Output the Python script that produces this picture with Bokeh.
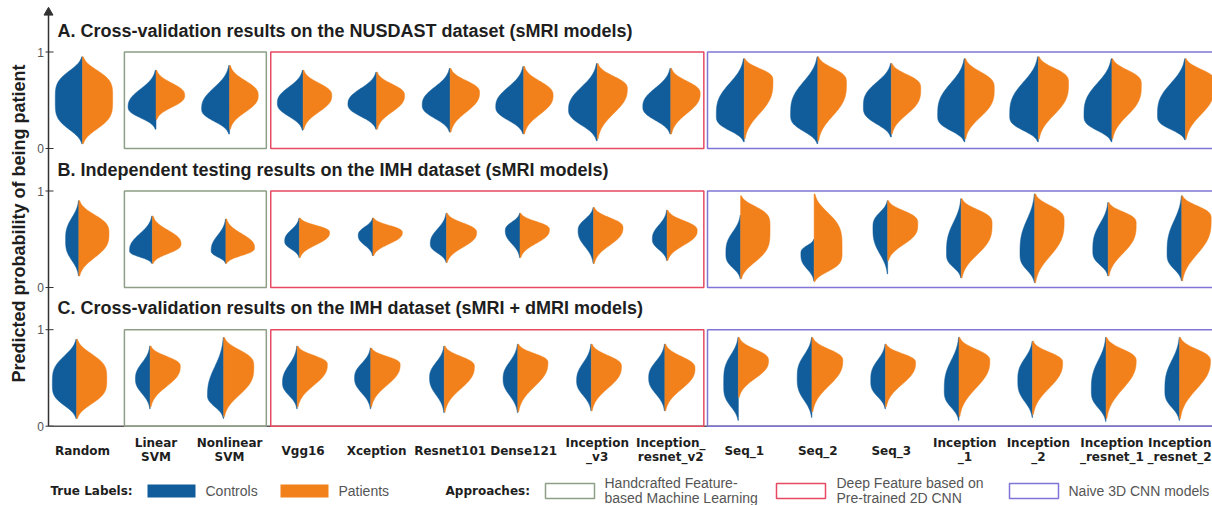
import numpy as np
from bokeh.plotting import figure
from bokeh.models import Range1d
from bokeh.core.properties import value
from bokeh.embed import file_html
from bokeh.resources import INLINE

# ---------------- data ----------------
model_labels = ["Random", "Linear\nSVM", "Nonlinear\nSVM", "Vgg16", "Xception",
                "Resnet101", "Dense121", "Inception\n_v3", "Inception_\nresnet_v2",
                "Seq_1", "Seq_2", "Seq_3", "Inception\n_1", "Inception\n_2",
                "Inception\n_resnet_1", "Inception\n_resnet_2"]

panel_titles = ["A. Cross-validation results on the NUSDAST dataset (sMRI models)",
                "B. Independent testing results on the IMH dataset (sMRI models)",
                "C. Cross-validation results on the IMH dataset (sMRI + dMRI models)"]

y_title = "Predicted probability of being patient"
y_tick_labels = ["0", "1"]
true_labels = ["Controls", "Patients"]
approach_labels = ["Handcrafted Feature-\nbased Machine Learning",
                   "Deep Feature based on\nPre-trained 2D CNN",
                   "Naive 3D CNN models"]
approach_first = [2, 4, 10]   # first model (1-based) of each approach
approach_last = [3, 9, 16]    # last model of each approach

# each half violin: (low tail, mode, high tail, half-width at mode, fullness)
A_controls = [(0.05, 0.50, 0.95, 0.37, 4.0), (0.20, 0.43, 0.81, 0.38, 2.5), (0.15, 0.41, 0.86, 0.38, 2.5),
              (0.19, 0.47, 0.81, 0.35, 2.5), (0.20, 0.46, 0.79, 0.39, 2.5), (0.17, 0.45, 0.83, 0.38, 2.5),
              (0.15, 0.43, 0.85, 0.38, 2.5), (0.08, 0.40, 0.88, 0.39, 2.5), (0.15, 0.43, 0.83, 0.38, 2.5),
              (0.07, 0.34, 0.93, 0.38, 3.0), (0.05, 0.35, 0.95, 0.37, 3.0), (0.12, 0.43, 0.88, 0.38, 3.0),
              (0.07, 0.34, 0.93, 0.37, 3.0), (0.07, 0.34, 0.95, 0.39, 3.0), (0.07, 0.34, 0.93, 0.38, 3.0),
              (0.09, 0.34, 0.93, 0.38, 3.0)]
A_patients = [(0.05, 0.52, 0.95, 0.41, 4.0), (0.30, 0.55, 0.81, 0.39, 2.5), (0.20, 0.55, 0.86, 0.39, 2.5),
              (0.20, 0.55, 0.81, 0.39, 2.5), (0.20, 0.55, 0.79, 0.38, 2.5), (0.17, 0.58, 0.83, 0.40, 2.5),
              (0.15, 0.55, 0.85, 0.40, 2.5), (0.10, 0.62, 0.88, 0.41, 2.5), (0.15, 0.57, 0.83, 0.40, 2.5),
              (0.10, 0.70, 0.93, 0.39, 3.0), (0.08, 0.68, 0.95, 0.39, 3.0), (0.15, 0.62, 0.88, 0.40, 3.0),
              (0.10, 0.62, 0.93, 0.40, 3.0), (0.10, 0.68, 0.95, 0.41, 3.0), (0.10, 0.66, 0.93, 0.40, 3.0),
              (0.10, 0.68, 0.93, 0.40, 3.0)]
B_controls = [(0.12, 0.49, 0.90, 0.18, 3.0), (0.25, 0.38, 0.74, 0.31, 2.5), (0.25, 0.38, 0.71, 0.20, 2.5),
              (0.31, 0.48, 0.72, 0.20, 2.5), (0.33, 0.54, 0.72, 0.20, 2.5), (0.26, 0.45, 0.77, 0.22, 2.5),
              (0.31, 0.59, 0.77, 0.20, 2.5), (0.25, 0.59, 0.83, 0.21, 2.5), (0.28, 0.50, 0.80, 0.20, 2.5),
              (0.09, 0.35, 0.75, 0.20, 3.0), (0.07, 0.35, 0.50, 0.18, 3.0), (0.14, 0.62, 0.90, 0.20, 3.0),
              (0.10, 0.35, 0.92, 0.20, 3.0), (0.05, 0.35, 0.97, 0.20, 3.0), (0.12, 0.38, 0.88, 0.21, 3.0),
              (0.07, 0.35, 0.95, 0.20, 3.0)]
B_patients = [(0.12, 0.56, 0.90, 0.41, 3.0), (0.25, 0.45, 0.74, 0.39, 2.5), (0.25, 0.41, 0.71, 0.39, 2.5),
              (0.31, 0.57, 0.72, 0.41, 2.5), (0.33, 0.57, 0.72, 0.40, 2.5), (0.26, 0.57, 0.77, 0.41, 2.5),
              (0.31, 0.60, 0.77, 0.40, 2.5), (0.25, 0.62, 0.83, 0.40, 2.5), (0.28, 0.59, 0.80, 0.41, 2.5),
              (0.09, 0.62, 0.95, 0.40, 4.0), (0.06, 0.38, 0.97, 0.38, 4.0), (0.28, 0.66, 0.90, 0.41, 3.0),
              (0.10, 0.66, 0.92, 0.42, 3.0), (0.05, 0.69, 0.97, 0.40, 3.0), (0.12, 0.66, 0.88, 0.38, 3.0),
              (0.07, 0.71, 0.95, 0.40, 3.0)]
C_controls = [(0.08, 0.44, 0.90, 0.33, 3.5), (0.18, 0.49, 0.83, 0.20, 2.5), (0.08, 0.32, 0.92, 0.22, 2.5),
              (0.18, 0.45, 0.83, 0.20, 2.5), (0.18, 0.50, 0.81, 0.22, 2.5), (0.14, 0.50, 0.83, 0.20, 2.5),
              (0.14, 0.49, 0.85, 0.20, 2.5), (0.16, 0.47, 0.85, 0.20, 2.5), (0.16, 0.50, 0.85, 0.22, 2.5),
              (0.06, 0.44, 0.92, 0.20, 3.5), (0.09, 0.50, 0.92, 0.20, 3.0), (0.18, 0.47, 0.85, 0.20, 3.0),
              (0.06, 0.37, 0.92, 0.20, 3.0), (0.09, 0.47, 0.88, 0.20, 3.0), (0.05, 0.37, 0.92, 0.20, 3.0),
              (0.06, 0.37, 0.92, 0.20, 3.0)]
C_patients = [(0.08, 0.49, 0.90, 0.41, 3.5), (0.20, 0.62, 0.83, 0.41, 2.5), (0.10, 0.62, 0.92, 0.41, 3.0),
              (0.20, 0.64, 0.83, 0.41, 2.5), (0.20, 0.64, 0.81, 0.40, 2.5), (0.15, 0.62, 0.83, 0.41, 2.5),
              (0.15, 0.66, 0.85, 0.41, 2.5), (0.16, 0.62, 0.85, 0.41, 2.5), (0.16, 0.60, 0.85, 0.41, 2.5),
              (0.30, 0.68, 0.92, 0.41, 2.5), (0.15, 0.68, 0.92, 0.42, 2.5), (0.20, 0.66, 0.85, 0.41, 2.5),
              (0.10, 0.68, 0.92, 0.42, 2.5), (0.12, 0.66, 0.88, 0.41, 2.5), (0.08, 0.68, 0.92, 0.41, 2.5),
              (0.08, 0.68, 0.92, 0.42, 2.5)]

panels = [(A_controls, A_patients), (B_controls, B_patients), (C_controls, C_patients)]

# ---------------- layout / style ----------------
BLUE = "#115d9b"
ORANGE = "#f2811b"
BOX_COLORS = ["#8f9e86", "#e64a62", "#8075d6"]
TXT = "#1e1e1e"
AXIS = "#333333"

PX_X = 73.53   # screen px per category
PX_Y = 96.5    # screen px per probability unit


def X(px):
    return 1 + (px - 82) / PX_X


def Y(py):
    return (425.7 - py) / PX_Y


panel_base = [Y(148), Y(287), 0.0]
panel_shift = [0.0, -0.05, -0.08]
box_pad_left = [0.43, 0.44, 0.50]
box_pad_right = [0.50, 0.45, 0.80]

W, H = 1212, 505
p = figure(width=W, height=H, x_range=Range1d(X(0), X(W)), y_range=Range1d(Y(H), Y(0)),
           output_backend="svg", toolbar_location=None, x_axis_location=None, y_axis_location=None,
           min_border_left=0, min_border_right=0, min_border_top=0, min_border_bottom=0)
p.outline_line_color = None
p.grid.grid_line_color = None
p.background_fill_color = "white"

# ---- hand-drawn y axis (line with arrow, ticks, labels, title) ----
p.segment(x0=[X(48)], y0=[0], x1=[X(48)], y1=[Y(12)], line_color=AXIS, line_width=1.5)
p.scatter(x=[X(48)], y=[Y(12)], marker="triangle", size=9, fill_color=AXIS, line_color=AXIS)
tick_y, tick_t = [], []
for b in panel_base:
    tick_y += [b, b + 1]
    tick_t += y_tick_labels
p.segment(x0=[X(45)] * len(tick_y), y0=tick_y, x1=[X(53)] * len(tick_y), y1=tick_y,
          line_color=AXIS, line_width=1)
p.text(x=[X(43.5)] * len(tick_y), y=tick_y, text=tick_t, text_align="right", text_baseline="middle",
       text_font=value("Liberation Sans"), text_font_size="12px", text_color="#555555")
p.text(x=[X(18)], y=[Y(223)], text=[y_title], angle=np.pi / 2, text_align="center",
       text_baseline="middle", text_font=value("Liberation Sans"), text_font_style="bold",
       text_font_size="18px", text_color=TXT)

# x axis line of the bottom panel
p.segment(x0=[X(48)], y0=[0], x1=[X(W)], y1=[0], line_color="#555555", line_width=1.5)

# approach boxes
for bi in range(3):
    lefts, rights, bottoms, tops = [], [], [], []
    for b in panel_base:
        lefts.append(approach_first[bi] - box_pad_left[bi])
        rights.append(approach_last[bi] + box_pad_right[bi])
        bottoms.append(b)
        tops.append(b + 1)
    p.quad(left=lefts, right=rights, bottom=bottoms, top=tops, fill_color=None,
           line_color=BOX_COLORS[bi], line_width=1.5)


def half(center, params, side):
    lo, mode, hi, w, k = params
    ys = np.linspace(lo, hi, 80)
    u = np.where(ys < mode, (mode - ys) / (mode - lo), (ys - mode) / (hi - mode))
    ws = w * np.exp(-3.5 * np.abs(u) ** k)
    xs = center + side * ws
    return list(xs) + [center, center], list(ys) + [hi, lo]


for pi_, (ctrl, pat) in enumerate(panels):
    bx, by, ox, oy = [], [], [], []
    for i in range(len(model_labels)):
        c = i + 1 + panel_shift[pi_]
        xs, ys = half(c, ctrl[i], -1)
        bx.append(xs)
        by.append([v + panel_base[pi_] for v in ys])
        xs, ys = half(c, pat[i], +1)
        ox.append(xs)
        oy.append([v + panel_base[pi_] for v in ys])
    p.patches(bx, by, fill_color=BLUE, line_color=BLUE, line_width=0.5)
    p.patches(ox, oy, fill_color=ORANGE, line_color=ORANGE, line_width=0.5)
    p.text(x=[X(57)], y=[panel_base[pi_] + 1.22], text=[panel_titles[pi_]], text_align="left",
           text_baseline="middle", text_font=value("Liberation Sans"), text_font_style="bold",
           text_font_size="18px", text_color=TXT)

# category labels (the last one is kept inside the page)
lx, ly, lt, la = [], [], [], []
n = len(model_labels)
for i, lab in enumerate(model_labels):
    parts = lab.split("\n")
    ys = [Y(450)] if len(parts) == 1 else [Y(442), Y(456)]
    for part, yy in zip(parts, ys):
        if i == n - 1:
            lx.append(X(W - 1))
            la.append("right")
        else:
            lx.append(i + 1)
            la.append("center")
        ly.append(yy)
        lt.append(part)
p.text(x=lx, y=ly, text=lt, text_align=la, text_baseline="middle",
       text_font=value("DejaVu Sans"), text_font_style="bold", text_font_size="12px", text_color=TXT)

# legend
ROW = 490
bold_kw = dict(text_align="left", text_baseline="middle", text_font=value("DejaVu Sans"),
               text_font_style="bold", text_font_size="12px", text_color=TXT)
reg_kw = dict(text_align="left", text_baseline="middle", text_font=value("Liberation Sans"),
              text_font_size="14px", text_color="#555555")
p.text(x=[X(50), X(445)], y=[Y(ROW), Y(ROW)], text=["True Labels:", "Approaches:"], **bold_kw)
p.quad(left=[X(147), X(280)], right=[X(195), X(328)], top=[Y(484)] * 2, bottom=[Y(497)] * 2,
       fill_color=[BLUE, ORANGE], line_color=None)
p.text(x=[X(205), X(338)], y=[Y(ROW), Y(ROW)], text=true_labels, **reg_kw)
box_left = [545, 776, 1009]
text_left = [604, 836, 1068]
p.quad(left=[X(v) for v in box_left], right=[X(v + 49) for v in box_left],
       top=[Y(483)] * 3, bottom=[Y(498)] * 3, fill_color="white", line_color=BOX_COLORS, line_width=1.5)
tx, ty, tt = [], [], []
for bi, lab in enumerate(approach_labels):
    parts = lab.split("\n")
    ys = [Y(ROW)] if len(parts) == 1 else [Y(482), Y(497)]
    for part, yy in zip(parts, ys):
        tx.append(X(text_left[bi]))
        ty.append(yy)
        tt.append(part)
p.text(x=tx, y=ty, text=tt, **reg_kw)

open("out.html", "w").write(file_html(p, INLINE))
